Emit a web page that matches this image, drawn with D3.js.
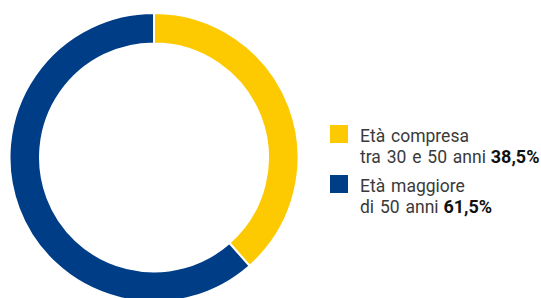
<!DOCTYPE html>
<html>
<head>
<meta charset="utf-8">
<script src="https://cdn.jsdelivr.net/npm/d3@7"></script>
<style>
  body { margin: 0; background: #fff; }
  text { font-family: Roboto, sans-serif; }
</style>
</head>
<body>
<svg id="chart" width="541" height="298"></svg>
<script>
let categories = ['Età compresa', 'Età maggiore'];
let subLabels = ['tra 30 e 50 anni', 'di 50 anni'];
let values = [38.5, 61.5];
let colors = ['#fdc900', '#003d87'];

let svg = d3.select('#chart');
let cx = 154, cy = 157.5, outerR = 144.5, innerR = 114;

let pie = d3.pie().sort(null).value((d) => d);
let arc = d3.arc().innerRadius(innerR).outerRadius(outerR);

svg.append('g')
    .attr('transform', 'translate(' + cx + ', ' + cy + ')')
    .selectAll('path')
    .data(pie(values))
    .join('path')
    .attr('d', arc)
    .attr('fill', (d, i) => colors[i])
    .attr('stroke', '#fff')
    .attr('stroke-width', 2);

let fmt = (v) => v.toFixed(1).replace('.', ',') + '%';

let legend = svg.append('g')
    .selectAll('g')
    .data(categories)
    .join('g')
    .attr('transform', (d, i) => 'translate(330, ' + (125 + i * 50) + ')');

legend.append('rect')
    .attr('width', 18)
    .attr('height', 18)
    .attr('fill', (d, i) => colors[i]);

legend.append('text')
    .attr('x', 30)
    .attr('y', 16.7)
    .attr('font-size', 17.5)
    .attr('word-spacing', 1.5)
    .attr('fill', '#3a3a3a')
    .text((d) => d);

let line2 = legend.append('text')
    .attr('x', 30)
    .attr('y', 38)
    .attr('font-size', 17.5)
    .attr('word-spacing', 1.5)
    .attr('fill', '#3a3a3a');

line2.append('tspan').text((d, i) => subLabels[i] + ' ');
line2.append('tspan')
    .attr('dx', -1)
    .attr('font-weight', 'bold')
    .attr('font-size', 18)
    .attr('fill', '#111')
    .text((d, i) => fmt(values[i]));
</script>
</body>
</html>
